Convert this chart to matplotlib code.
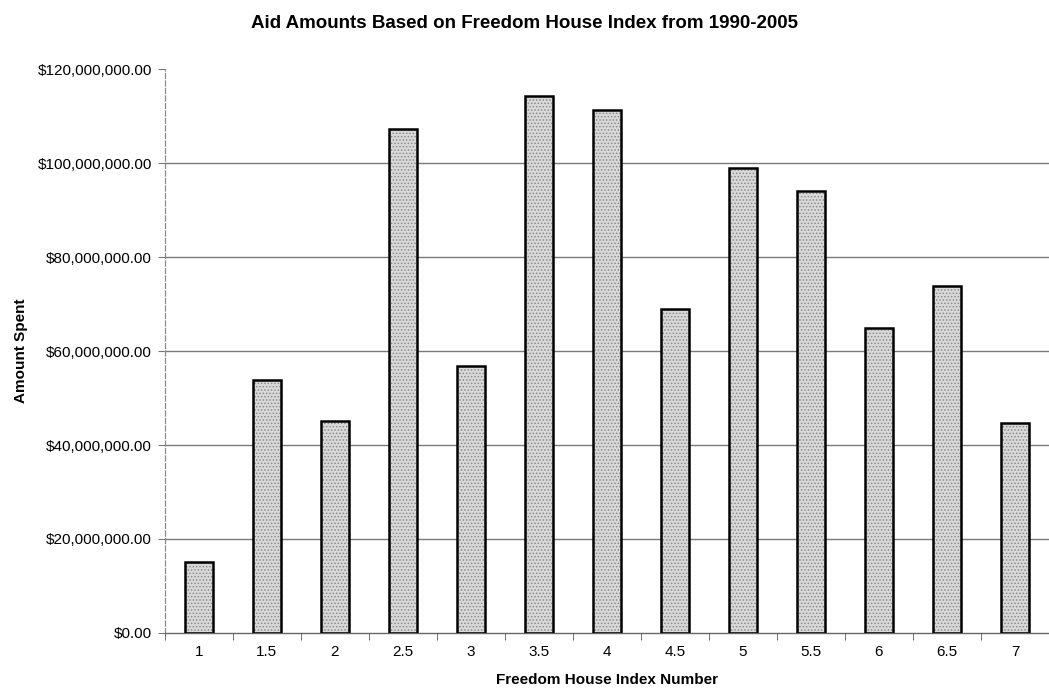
import numpy as np
import matplotlib
matplotlib.use("Agg")
import matplotlib.pyplot as plt
from matplotlib.ticker import FuncFormatter, FixedLocator

plt.rcParams['font.family'] = ['Liberation Sans', 'DejaVu Sans']
plt.rcParams['hatch.linewidth'] = 0.7

### data
index_labels = ['1', '1.5', '2', '2.5', '3', '3.5', '4', '4.5', '5', '5.5', '6', '6.5', '7']
aid_amounts = [15.1e6, 53.8e6, 45.1e6, 107.2e6, 56.8e6, 114.3e6, 111.3e6,
               68.9e6, 98.9e6, 94.0e6, 64.9e6, 73.8e6, 44.7e6]
y_ticks = [0, 20e6, 40e6, 60e6, 80e6, 100e6, 120e6]

fig = plt.figure(figsize=(10.49, 6.91), dpi=100)
ax = fig.add_axes([0.157, 0.084, 0.843, 0.816])

x = np.arange(len(index_labels))
# stippled fill first, then the black outline on top
ax.bar(x, aid_amounts, width=0.41, color='#d9d9d9', edgecolor='#8a8a8a',
       hatch='.....', linewidth=0, zorder=2)
ax.bar(x, aid_amounts, width=0.41, fill=False, edgecolor='black',
       linewidth=1.8, zorder=3)

ax.set_xlim(-0.5, len(index_labels) - 0.5)
ax.set_ylim(0, 120e6)
ax.set_yticks(y_ticks)
ax.yaxis.set_major_formatter(FuncFormatter(lambda v, p: '${:,.2f}'.format(v)))
# gridlines, but none at the very top
for v in y_ticks[1:-1]:
    ax.axhline(v, color='#7a7a7a', linewidth=1.0, zorder=1)

ax.set_xticks(x)
ax.set_xticklabels(index_labels)
ax.xaxis.set_minor_locator(FixedLocator(np.arange(-0.5, len(index_labels), 1.0)))
ax.tick_params(axis='x', which='major', length=0, pad=9, labelsize=11)
ax.tick_params(axis='x', which='minor', length=5, color='#555555', direction='out')
ax.tick_params(axis='y', length=5, color='#777777', labelsize=11, pad=4)

for side in ['top', 'right']:
    ax.spines[side].set_visible(False)
ax.spines['left'].set_color('#8a8a8a')
ax.spines['left'].set_linestyle((0, (4, 2)))
ax.spines['left'].set_linewidth(0.9)
ax.spines['bottom'].set_color('#666666')
ax.spines['bottom'].set_linewidth(1.0)

ax.set_xlabel('Freedom House Index Number', fontsize=11, fontweight='bold', labelpad=10)
ax.set_ylabel('Amount Spent', fontsize=11, fontweight='bold', labelpad=7)
fig.suptitle('Aid Amounts Based on Freedom House Index from 1990-2005',
             fontsize=13.5, fontweight='bold', y=0.979)

fig.savefig('out.png', dpi=100)
